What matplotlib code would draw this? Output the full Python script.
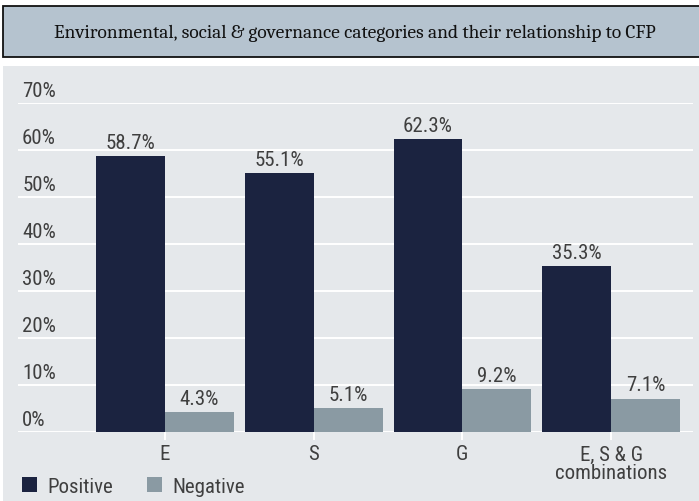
import matplotlib
matplotlib.use('Agg')
import matplotlib.pyplot as plt
from matplotlib.patches import Rectangle
from matplotlib.transforms import blended_transform_factory
import numpy as np

plt.rcParams.update({'font.family': ['Roboto Condensed', 'DejaVu Sans']})

categories = ['E', 'S', 'G', 'E, S & G\ncombinations']
positive = [58.7, 55.1, 62.3, 35.3]
negative = [4.3, 5.1, 9.2, 7.1]
yticks = [0, 10, 20, 30, 40, 50, 60, 70]
title = 'Environmental, social & governance categories and their relationship to CFP'

W, H = 699, 502
fig = plt.figure(figsize=(W / 100, H / 100), dpi=100)

def px(x0, y0, x1, y1):
    # pixel box (top-left origin) -> figure fraction rect
    return [x0 / W, 1 - y1 / H, (x1 - x0) / W, (y1 - y0) / H]

# title box
fig.patches.append(Rectangle((3 / W, 1 - 58 / H), 1.0, 51 / H, transform=fig.transFigure,
                             facecolor='#b5c3cf', edgecolor='#111111', linewidth=1.3, zorder=-5))
fig.text(355 / W, 1 - 33 / H, title, ha='center', va='center', fontsize=14,
         family=['Caladea', 'Liberation Serif'], color='#111111')

# chart panel background
fig.patches.append(Rectangle((3 / W, 0), 1.0, 1 - 67 / H, transform=fig.transFigure,
                             facecolor='#e5e8eb', edgecolor='none', zorder=-5))

ax = fig.add_axes(px(18, 104, 693, 433))
ax.set_facecolor('none')
ax.set_ylim(0, 70)
x = np.arange(len(categories))
ax.set_xlim(-0.987, 3.55)
w = 0.463

c_pos = '#1b2340'
c_neg = '#8a9aa3'
txt = '#3f3f3f'
fs = 15

for v in yticks:
    ax.axhline(v, color='white', lw=1.4, zorder=1)

bp = ax.bar(x - w / 2, positive, w, color=c_pos, zorder=2, label='Positive')
bn = ax.bar(x + w / 2, negative, w, color=c_neg, zorder=2, label='Negative')

for xi, v in zip(x, positive):
    ax.text(xi - w / 2, v + 0.9, f'{v}%', ha='center', va='bottom', fontsize=fs, color=txt)
for xi, v in zip(x, negative):
    ax.text(xi + w / 2, v + 0.9, f'{v}%', ha='center', va='bottom', fontsize=fs, color=txt)

tr = blended_transform_factory(ax.transAxes, ax.transData)
for v in yticks:
    ax.text(0.006, v + 0.6, f'{v}%', transform=tr, ha='left', va='bottom', fontsize=fs, color=txt)

ax.set_yticks([])
ax.set_xticks(x)
ax.set_xticklabels(categories, fontsize=fs, color=txt, linespacing=1.0, va='top')
ax.tick_params(axis='x', length=6, width=1.4, color='white', pad=3)
for s in ax.spines.values():
    s.set_visible(False)

leg = fig.legend(handles=[bp, bn], labels=['Positive', 'Negative'], loc='lower left',
                 bbox_to_anchor=(9 / W, -0.014), ncol=2, frameon=False, fontsize=fs,
                 handlelength=0.75, handleheight=0.75, handletextpad=0.5, columnspacing=1.6,
                 borderaxespad=0.2)
for t in leg.get_texts():
    t.set_color(txt)

fig.savefig('out.png', dpi=100)
